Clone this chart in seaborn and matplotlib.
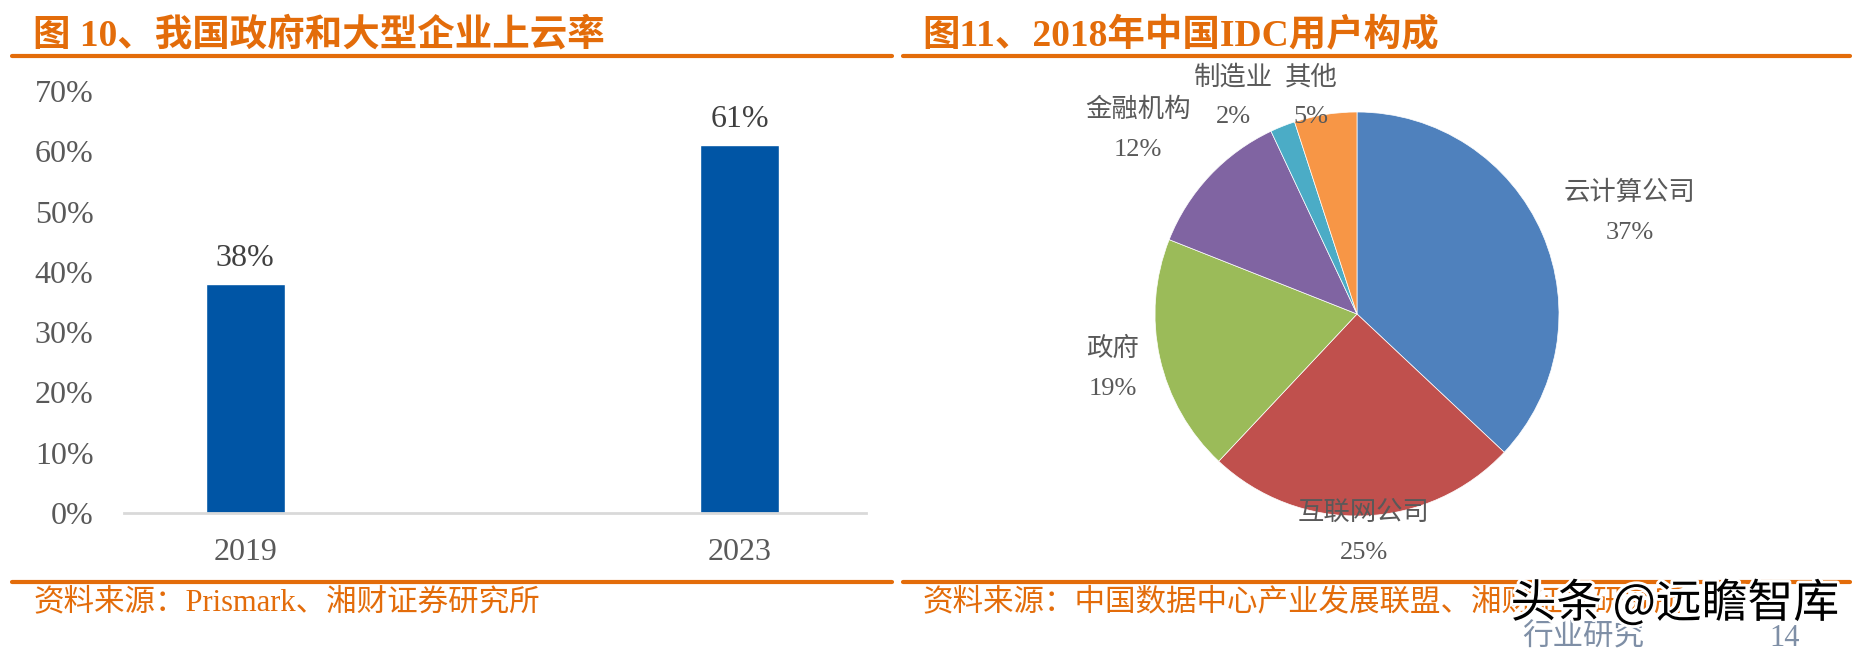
import numpy as np
import pandas as pd
import matplotlib
matplotlib.use('Agg')
import matplotlib.pyplot as plt
import matplotlib.patheffects as pe
import seaborn as sns

sns.set_style('white')
plt.rcParams['font.family'] = ['Liberation Serif', 'Noto Sans CJK SC']

# left chart data
years = ['2019', '2023']
cloud_rate = [0.38, 0.61]

# right chart data
users = ['云计算公司', '互联网公司', '政府', '金融机构', '制造业', '其他']
shares = [37, 25, 19, 12, 2, 5]
pie_colors = ['#4F81BD', '#C0504D', '#9BBB59', '#8064A2', '#4BACC6', '#F79646']

orange = '#E36C0A'
gray = '#595959'

W, H = 1859, 653
fig = plt.figure(figsize=(W / 100, H / 100), dpi=100)

# header / footer
fig.text(33 / W, 1 - 36 / H, '图 10、我国政府和大型企业上云率', fontsize=27, fontweight='bold',
         color=orange, va='center', ha='left')
fig.text(922 / W, 1 - 36 / H, '图11、2018年中国IDC用户构成', fontsize=27, fontweight='bold',
         color=orange, va='center', ha='left')
for x0, x1 in [(12, 892), (903, 1850)]:
    for yy in [56, 582]:
        fig.add_artist(plt.Line2D([x0 / W, x1 / W], [1 - yy / H, 1 - yy / H], color=orange, lw=3))
fig.text(33 / W, 1 - 603 / H, '资料来源：Prismark、湘财证券研究所', fontsize=22,
         color=orange, va='center', ha='left')
fig.text(922 / W, 1 - 603 / H, '资料来源：中国数据中心产业发展联盟、湘财证券研究所', fontsize=22,
         color=orange, va='center', ha='left')

# bar chart
df = pd.DataFrame({'year': years, 'rate': cloud_rate})
ax = fig.add_axes([124 / W, 1 - 513 / H, (866 - 124) / W, (513 - 91) / H])
sns.barplot(data=df, x='year', y='rate', color='#0055A5', width=0.16, saturation=1, ax=ax)
ax.set_ylim(0, 0.7)
ax.set_xlim(-0.245, 1.255)
ax.set_yticks(np.arange(0, 0.71, 0.1))
ax.set_yticklabels([f'{int(round(v * 100))}%' for v in np.arange(0, 0.71, 0.1)])
ax.set_xlabel('')
ax.set_ylabel('')
for s in ['top', 'right', 'left']:
    ax.spines[s].set_visible(False)
ax.spines['bottom'].set_color('#D9D9D9')
ax.spines['bottom'].set_linewidth(2)
ax.tick_params(axis='y', length=0, pad=22, labelsize=23, labelcolor=gray)
ax.tick_params(axis='x', length=0, pad=18, labelsize=23, labelcolor=gray)
ax.bar_label(ax.containers[0], labels=[f'{int(round(v * 100))}%' for v in cloud_rate],
             padding=8, fontsize=23, color='#404040')

# pie chart
cx, cy, r = 1357, 314, 202
s = 300
k = s / r
pax = fig.add_axes([(cx - s) / W, 1 - (cy + s) / H, 2 * s / W, 2 * s / H])
wedges, _ = pax.pie(shares, colors=pie_colors, startangle=90, counterclock=False,
                    wedgeprops=dict(linewidth=0.5, edgecolor='white'))
pax.set_xlim(-k, k)
pax.set_ylim(-k, k)
pax.set_aspect('equal')
pax.axis('off')

label_dist = [1.44, 1.08, 1.24, 1.42, 1.24, 1.10]
angle_nudge = [-3, 0, 0, 3, 8, 3]
for w, name, v, d, dn in zip(wedges, users, shares, label_dist, angle_nudge):
    mid = np.deg2rad((w.theta1 + w.theta2) / 2 + dn)
    pax.text(d * np.cos(mid), d * np.sin(mid), f'{name}\n{v}%', ha='center', va='center',
             fontsize=19, color=gray, linespacing=2.0, clip_on=False)

# watermark overlay
fig.text(1583 / W, 1 - 638 / H, '行业研究', fontsize=22, color='#7F8FA6', ha='center', va='center')
fig.text(1785 / W, 1 - 638 / H, '14', fontsize=22, color='#7F8FA6', ha='center', va='center')
fig.text(1675 / W, 1 - 604 / H, '头条 @远瞻智库', fontsize=33, color='black', ha='center', va='center',
         family=['Noto Sans CJK SC', 'DejaVu Sans'],
         path_effects=[pe.withStroke(linewidth=4, foreground='white')])

fig.savefig('out.png', dpi=100)
